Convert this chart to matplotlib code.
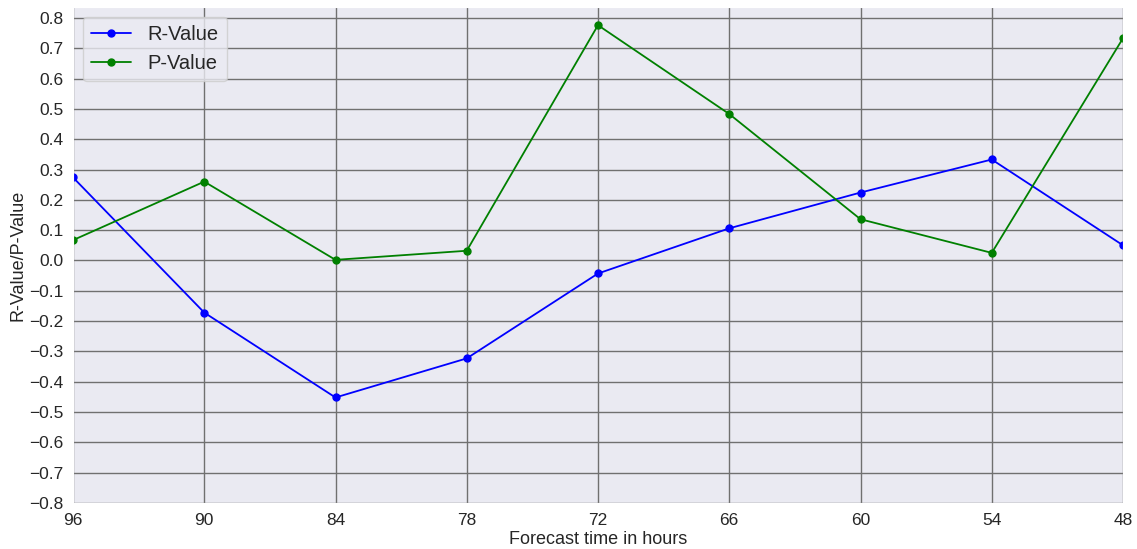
import matplotlib
matplotlib.use("Agg")
import matplotlib.pyplot as plt
import seaborn as sns
import numpy as np

hours = ["96", "90", "84", "78", "72", "66", "60", "54", "48"]
r_values = [0.274, -0.172, -0.452, -0.323, -0.043, 0.106, 0.224, 0.333, 0.050]
p_values = [0.067, 0.260, 0.002, 0.032, 0.776, 0.483, 0.136, 0.025, 0.733]
yticks = [round(v, 1) for v in np.arange(-0.8, 0.81, 0.1)]

sns.set_style("darkgrid", {"grid.color": "#777777"})
plt.rcParams['font.family'] = ['Liberation Sans', 'DejaVu Sans']

fig = plt.figure(figsize=(11.37, 5.49), dpi=100)
ax = fig.add_axes([73/1137, 1-503/549, (1123-73)/1137, (503-7)/549])

x = np.arange(len(hours))
ax.plot(x, r_values, color="blue", marker="o", markersize=5, linewidth=1.3, label="R-Value")
ax.plot(x, p_values, color="green", marker="o", markersize=5, linewidth=1.3, label="P-Value")

def fmt(v):
    s = f"{abs(v):.1f}"
    return ("\u2212" + s) if v < -1e-9 else s

ax.set_xticks(x)
ax.set_xticklabels(hours, fontsize=12.5)
ax.set_xlim(0, len(hours) - 1)
ax.set_yticks(yticks)
ax.set_yticklabels([fmt(v) for v in yticks], fontsize=12.5)
ax.set_ylim(-0.8, 0.836)
ax.grid(True, color="#707070", linewidth=1.0)
ax.set_xlabel("Forecast time in hours", fontsize=13, labelpad=2)
ax.set_ylabel("R-Value/P-Value", fontsize=13, labelpad=2)
ax.legend(loc="upper left", fontsize=14.5)

fig.savefig("out.png", dpi=100)
